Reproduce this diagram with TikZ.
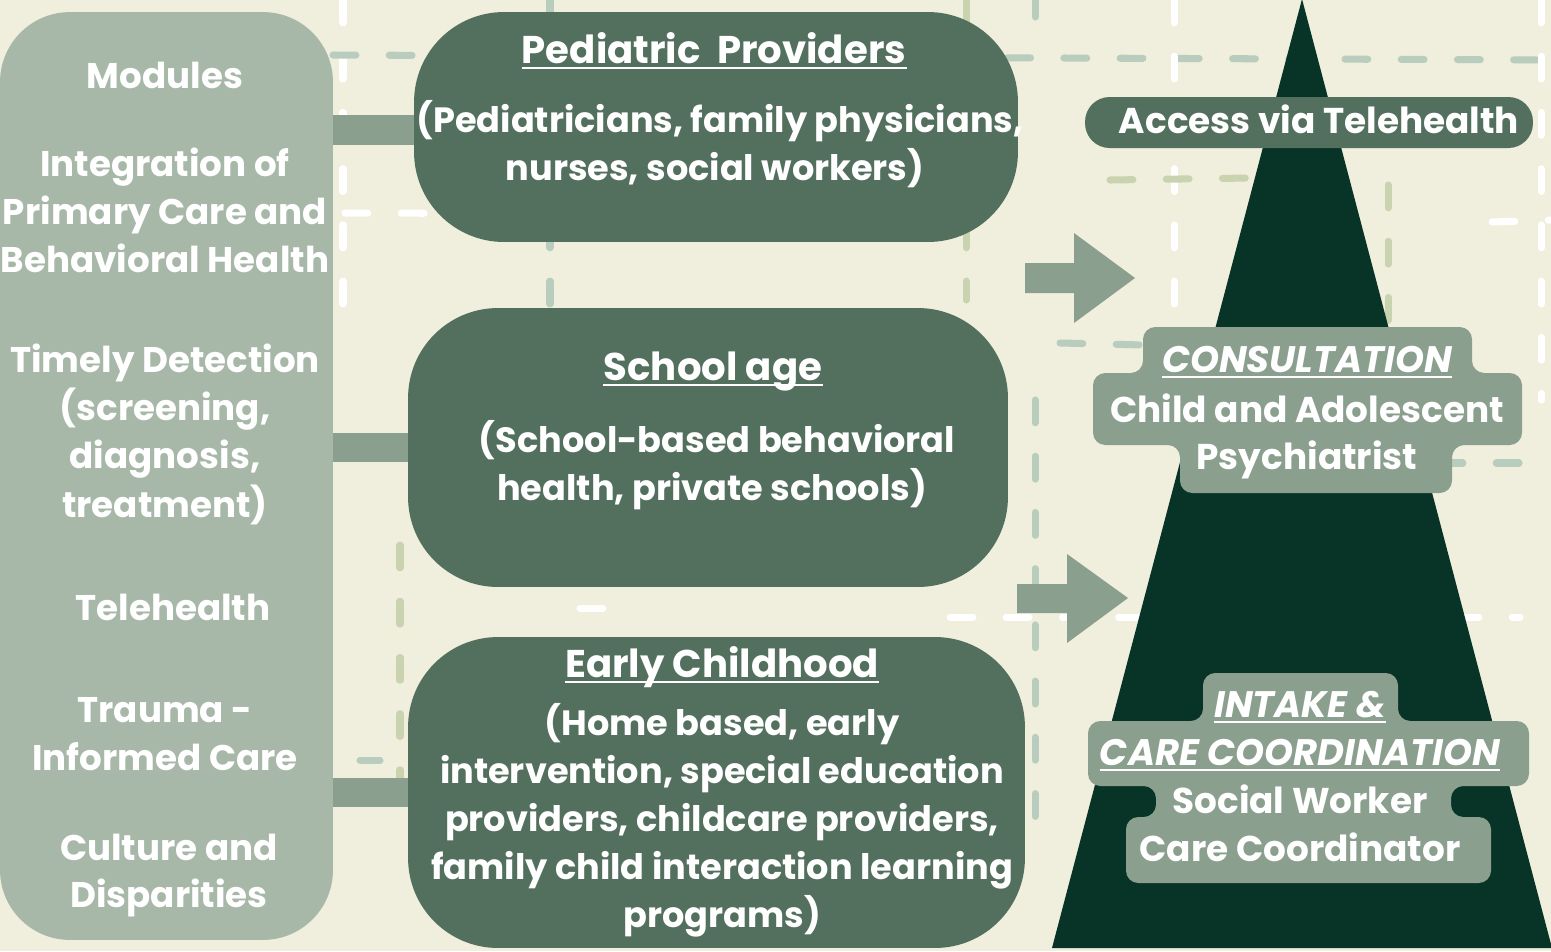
\documentclass[tikz,border=0pt]{standalone}
\usepackage{fontspec}
\setmainfont{Poppins}
\definecolor{bg}{HTML}{F0EEDD}
\definecolor{panelc}{HTML}{A7B8A9}
\definecolor{barc}{HTML}{8A9F8E}
\definecolor{midc}{HTML}{53705F}
\definecolor{tric}{HTML}{083327}
\definecolor{dsage}{HTML}{B8CDBD}
\definecolor{dolive}{HTML}{CAD3B0}
\tikzset{
  dl/.style={line width=4pt, line cap=round, dash pattern=on 13pt off 19pt},
  bigbox/.style={draw=none, fill=midc, rounded corners=1.8cm, inner sep=0pt, outer sep=0pt},
  barline/.style={barc, line width=17pt},
  lt/.style={anchor=base, inner sep=0pt, text=white, font=\fontsize{20.3}{22}\selectfont\bfseries},
  mt/.style={anchor=base, inner sep=0pt, text=white, font=\fontsize{20}{22}\selectfont\bfseries},
  mh/.style={anchor=base, inner sep=0pt, text=white, font=\fontsize{22}{24}\selectfont\bfseries},
  rt/.style={anchor=base, inner sep=0pt, text=white, font=\fontsize{20.4}{22}\selectfont\bfseries},
  rit/.style={anchor=base, inner sep=0pt, text=white, font=\fontsize{21}{23}\selectfont\bfseries\itshape},
  ul/.style={white, line width=1.2pt},
}
\begin{document}
\begin{tikzpicture}[x=0.02cm, y=-0.02cm]
\useasboundingbox (0,0) rectangle (1551,951);
\fill[bg] (0,0) rectangle (1551,951);
% decorative dashed background lines
\draw[dl, white] (343,0) -- (343,330);
\draw[dl, white] (345,213) -- (1005,215);
\draw[dl, dsage] (333,55) -- (1551,60);
\draw[dl, dsage] (550,0) -- (550,305);
\draw[dl, dolive] (966,0) -- (966,300);
\draw[dl, white] (1174,0) -- (1174,330);
\draw[dl, white] (1541,0) -- (1541,400);
\draw[dl, white] (1492,222) -- (1551,220);
\draw[dl, dolive] (1110,180) -- (1250,178);
\draw[dl, dolive] (1388,185) -- (1388,330);
\draw[dl, dsage] (1060,343) -- (1145,345);
\draw[dl, dsage] (1440,463) -- (1520,463);
\draw[dl, dsage] (1035,0) -- (1035,17);
\draw[dl, dsage] (1035,400) -- (1035,833);
\draw[dl, dolive] (400,545) -- (400,825);
\draw[dl, dsage] (360,760) -- (380,760);
\draw[dl, dsage] (360,457) -- (380,457);
\draw[dl, white] (580,608) -- (634,608);
\draw[dl, white] (950,617) -- (1520,617);

% left panel and middle boxes
\node[fill=panelc, rounded corners=1.4cm, minimum width=6.66cm, minimum height=18.56cm, inner sep=0pt, outer sep=0pt] (panel) at (166.5,476) {};
\node[bigbox, minimum width=12.08cm, minimum height=4.6cm] (ped) at (716,127) {};
\node[bigbox, minimum width=12cm, minimum height=5.58cm] (school) at (708,447.5) {};
\node[bigbox, minimum width=12.34cm, minimum height=6.22cm] (early) at (716.5,792.5) {};
% connector bars
\draw[barline] (panel.east |- 0,130) -- (ped.west |- 0,130);
\draw[barline] (panel.east |- school.west) -- (school.west);
\draw[barline] (panel.east |- early.west) -- (early.west);

% block arrows
\fill[barc] (1025,263) -- (1074,263) -- (1074,233) -- (1135,278) -- (1074,323) -- (1074,293) -- (1025,293) -- cycle;
\fill[barc] (1017,584) -- (1067,584) -- (1067,554) -- (1128,598) -- (1067,643) -- (1067,613) -- (1017,613) -- cycle;

% triangle
\fill[tric] (1302,-1) -- (1052,948) -- (1552,948) -- cycle;

% right labels
\node[fill=midc, rounded corners=14pt, minimum width=8.96cm, minimum height=1.02cm, inner sep=0pt, outer sep=0pt] (access) at (1309,122.5) {};
\fill[barc, rounded corners=7pt] (1143,327) -- (1472,327) -- (1472,373) -- (1522,373) -- (1522,445) -- (1452,445) -- (1452,493) -- (1180,493) -- (1180,445) -- (1093,445) -- (1093,373) -- (1143,373) -- cycle;
\fill[barc, rounded corners=7pt] (1203,673) -- (1398,673) -- (1398,721) -- (1529,721) -- (1529,786) -- (1451,786) -- (1451,817) -- (1491,817) -- (1491,883) -- (1126,883) -- (1126,817) -- (1156,817) -- (1156,786) -- (1088,786) -- (1088,721) -- (1203,721) -- cycle;

% left panel texts
\foreach \t/\x/\y [count=\i] in {{Modules}/165/88, {Integration of}/165/176, {Primary Care and}/165/224, {Behavioral Health}/165/272, {Timely Detection}/165/372, {(screening,}/165/420, {diagnosis,}/165/468, {treatment)}/165/517, {Telehealth}/173/620, {Trauma -}/165/722, {Informed Care}/165/770, {Culture and}/169/860, {Disparities}/169/907}
  \node[lt] (L\i) at (\x,\y) {\t};

% middle texts
\node[mh] (pedh) at (714,63) {Pediatric\ \ Providers};
\draw[ul] ([yshift=-3pt]pedh.base west) -- ([yshift=-3pt]pedh.base east);
\node[mt] (ped1) at (720,132) {(Pediatricians, family physicians,};
\node[mt] (ped2) at (715,180) {nurses, social workers)};

\node[mh] (schh) at (713,380) {School age};
\draw[ul] ([yshift=-3pt]schh.base west) -- ([yshift=-3pt]schh.base east);
\node[mt] (sch1) at (717,452) {(School-based behavioral};
\node[mt] (sch2) at (712,500) {health, private schools)};

\node[mh] (earh) at (722,677) {Early Childhood};
\draw[ul] ([yshift=-3pt]earh.base west) -- ([yshift=-3pt]earh.base east);
\node[mt] (ear1) at (722,735) {(Home based, early};
\node[mt] (ear2) at (722,783) {intervention, special education};
\node[mt] (ear3) at (722,831) {providers, childcare providers,};
\node[mt] (ear4) at (722,879) {family child interaction learning};
\node[mt] (ear5) at (722,927) {programs)};

% right texts
\node[rt] (acct) at (1319,133) {Access via Telehealth};
\node[rit] (cons) at (1307,372) {CONSULTATION};
\draw[ul] ([yshift=-3pt]cons.base west) -- ([yshift=-3pt]cons.base east);
\node[rt] (cons1) at (1307,422) {Child and Adolescent};
\node[rt] (cons2) at (1307,469) {Psychiatrist};
\node[rit] (int1) at (1300,717) {INTAKE \&};
\draw[ul] ([yshift=-3pt]int1.base west) -- ([yshift=-3pt]int1.base east);
\node[rit] (int2) at (1300,765) {CARE COORDINATION};
\draw[ul] ([yshift=-3pt]int2.base west) -- ([yshift=-3pt]int2.base east);
\node[rt] (int3) at (1300,813) {Social Worker};
\node[rt] (int4) at (1300,861) {Care Coordinator};
\end{tikzpicture}
\end{document}
